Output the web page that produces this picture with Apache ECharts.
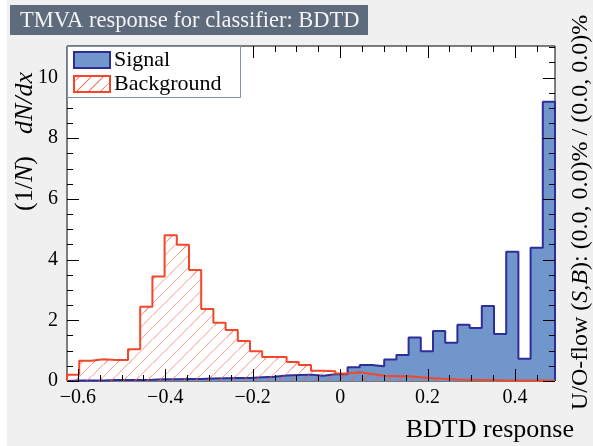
<!DOCTYPE html>
<html>
<head>
<meta charset="utf-8">
<script src="https://cdn.jsdelivr.net/npm/echarts@6/dist/echarts.min.js"></script>
<style>
  html, body { margin: 0; padding: 0; background: #f0f0f0; }
  #chart { width: 593px; height: 446px; }
</style>
</head>
<body>
<div id="chart"></div>
<script>
// Histogram binning of the BDTD classifier response
const xMin = -0.6247;
const xMax = 0.4914;
const nBins = 40;

// Normalised (1/N) dN/dx per bin, left to right
const signal = [
  0.02, 0.02, 0.02, 0.03, 0.03, 0.03, 0.04, 0.06, 0.06, 0.07,
  0.07, 0.08, 0.09, 0.10, 0.10, 0.12, 0.14, 0.18, 0.20, 0.21,
  0.17, 0.22, 0.22, 0.45, 0.53, 0.49, 0.71, 0.86, 1.43, 0.98,
  1.65, 1.26, 1.85, 1.75, 2.47, 1.55, 4.26, 0.73, 4.39, 9.20
];
const background = [
  0.21, 0.67, 0.72, 0.69, 0.69, 1.05, 2.45, 3.44, 4.80, 4.49,
  3.66, 2.37, 1.92, 1.68, 1.32, 0.98, 0.79, 0.79, 0.63, 0.53,
  0.34, 0.32, 0.25, 0.29, 0.23, 0.17, 0.16, 0.16, 0.12, 0.09,
  0.07, 0.05, 0.04, 0.03, 0.03, 0.02, 0.02, 0.02, 0.02, 0.01
];

// Axis tick labels
const xTickValues = [-0.6, -0.4, -0.2, 0, 0.2, 0.4];
const yTickValues = [0, 2, 4, 6, 8, 10];

const yMax = 1.2 * Math.max(...signal, ...background);

const SERIF = '"Liberation Serif", "DejaVu Serif", serif';
const SIG_FILL = '#7096cc';
const SIG_LINE = '#2e2e9a';
const BKG_LINE = '#f2472b';
const HATCH = '#f25a40';
const HATCH_STEP = 12;   // horizontal spacing of the hatch lines, px
const HATCH_W = 0.6;     // half horizontal thickness of a hatch stripe, px
const MAJOR_LEN = 12, MINOR_LEN = 6;

function edge(k) { return xMin + k * (xMax - xMin) / nBins; }

// Closed stepped outline of a histogram: up at the first edge, flat tops, down at the last edge
function stepData(vals) {
  const d = [[edge(0), 0]];
  vals.forEach((v, i) => d.push([edge(i), v]));
  d.push([edge(nBins), vals[nBins - 1]]);
  d.push([edge(nBins), 0]);
  return d;
}

// Minor tick positions (every 0.05 on x, every 0.5 on y), majors are the labelled ones
const xMinor = [];
for (let v = -0.6; v < xMax; v += 0.05) xMinor.push(+v.toFixed(2));
const yMinor = [];
for (let v = 0; v <= yMax; v += 0.5) yMinor.push(+v.toFixed(1));
const isMajor = (list, v) => list.some(t => Math.abs(t - v) < 1e-9);

const fmtX = v => {
  const r = +(+v).toFixed(1);
  return (r < 0 ? '\u2212' + Math.abs(r) : String(r));
};

// "/" hatch stripes (x + y = const in screen space) clipped to a rectangle, as thin filled quads
function hatchStripes(x0, y0, x1, y1) {
  const out = [];
  const cStart = Math.ceil((x0 + y0) / HATCH_STEP) * HATCH_STEP;
  for (let c = cStart; c <= x1 + y1; c += HATCH_STEP) {
    const lo = Math.max(x0, c - y1);
    const hi = Math.min(x1, c - y0);
    if (hi - lo > 0.3) {
      const a = Math.max(x0, lo - HATCH_W), b = Math.min(x1, hi + HATCH_W);
      out.push([
        [a, c - lo], [Math.min(x1, lo + HATCH_W), c - lo],
        [b, c - hi], [Math.max(x0, hi - HATCH_W), c - hi]
      ]);
    }
  }
  return out;
}

function renderHatch(params, api) {
  const tl = api.coord([api.value(0), api.value(2)]);
  const br = api.coord([api.value(1), 0]);
  return {
    type: 'group',
    children: hatchStripes(tl[0], tl[1], br[0], br[1]).map(p => ({
      type: 'polygon', shape: { points: p }, style: { fill: HATCH }
    }))
  };
}

const hatchData = background.map((v, i) => [edge(i), edge(i + 1), v]);

// Legend key box, drawn as plain shapes and text
const LEG = { x: 67.5, y: 46.5, w: 173, h: 51, sx: 74, sw: 36, sh: 16, rows: [52, 76] };
const legendGraphics = [
  { type: 'rect', shape: { x: LEG.x, y: LEG.y, width: LEG.w, height: LEG.h },
    style: { fill: '#ffffff', stroke: '#8090a8', lineWidth: 1 }, z: 20 },
  { type: 'rect', shape: { x: LEG.sx, y: LEG.rows[0], width: LEG.sw, height: LEG.sh },
    style: { fill: SIG_FILL, stroke: SIG_LINE, lineWidth: 2 }, z: 21 },
  { type: 'text', x: 114, y: LEG.rows[0] + 8, z: 21,
    style: { text: 'Signal', font: '22px ' + SERIF, fill: '#000', verticalAlign: 'middle' } },
  { type: 'rect', shape: { x: LEG.sx, y: LEG.rows[1], width: LEG.sw, height: LEG.sh },
    style: { fill: '#ffffff', stroke: BKG_LINE, lineWidth: 2 }, z: 21 },
  { type: 'text', x: 114, y: LEG.rows[1] + 8, z: 21,
    style: { text: 'Background', font: '22px ' + SERIF, fill: '#000', verticalAlign: 'middle' } }
].concat(
  hatchStripes(LEG.sx + 1, LEG.rows[1] + 1, LEG.sx + LEG.sw - 1, LEG.rows[1] + LEG.sh - 1).map(p => ({
    type: 'polygon', z: 22, shape: { points: p }, style: { fill: HATCH }
  }))
);

// Titles and side texts
const textGraphics = [
  { type: 'rect', shape: { x: 0, y: 0, width: 7, height: 446 }, style: { fill: '#ffffff' }, z: -10 },
  { type: 'rect', shape: { x: 10, y: 5, width: 358, height: 30 }, style: { fill: '#5d6b7d' }, z: 10 },
  { type: 'text', x: 20, y: 21, z: 11,
    style: { text: 'TMVA response for classifier: BDTD', fill: '#f4f4f4',
             font: '22.5px ' + SERIF, verticalAlign: 'middle' } },
  { type: 'text', x: 25, y: 72, rotation: Math.PI / 2, z: 11,
    style: {
      text: '{n|(1/}{i|N}{n|)}{g|}{i|dN/dx}', align: 'right', verticalAlign: 'middle',
      rich: {
        n: { fontFamily: SERIF, fontSize: 26, fill: '#000' },
        i: { fontFamily: SERIF, fontSize: 26, fontStyle: 'italic', fill: '#000' },
        g: { width: 22 }
      }
    } },
  { type: 'text', x: 574, y: 430, z: 11,
    style: { text: 'BDTD response', fill: '#000', font: '26px ' + SERIF,
             align: 'right', verticalAlign: 'middle' } },
  { type: 'text', x: 581, y: 410, rotation: Math.PI / 2, z: 11,
    style: {
      text: '{n|U/O-flow (}{i|S,B}{n|): (0.0, 0.0)% / (0.0, 0.0)%}',
      align: 'left', verticalAlign: 'middle',
      rich: {
        n: { fontFamily: SERIF, fontSize: 24, fill: '#000' },
        i: { fontFamily: SERIF, fontSize: 24, fontStyle: 'italic', fill: '#000' }
      }
    } }
];

const chart = echarts.init(document.getElementById('chart'), null, { renderer: 'canvas' });

chart.setOption({
  animation: false,
  backgroundColor: '#f0f0f0',
  grid: {
    left: 67, right: 38, top: 46, bottom: 65,
    show: true, backgroundColor: '#ffffff', borderColor: '#000', borderWidth: 1
  },
  xAxis: {
    type: 'value', min: xMin, max: xMax,
    axisLine: { show: false, onZero: false },
    axisTick: { show: false },
    axisLabel: {
      customValues: xTickValues, formatter: fmtX, margin: 7,
      fontFamily: SERIF, fontSize: 20, color: '#000'
    },
    splitLine: { show: false }
  },
  yAxis: {
    type: 'value', min: 0, max: yMax,
    axisLine: { show: false, onZero: false },
    axisTick: { show: false },
    axisLabel: {
      customValues: yTickValues, margin: 9,
      fontFamily: SERIF, fontSize: 20, color: '#000'
    },
    splitLine: { show: false }
  },
  series: [
    {
      name: 'Signal', type: 'line', step: 'end', showSymbol: false, symbol: 'none',
      z: 2, data: stepData(signal),
      lineStyle: { color: SIG_LINE, width: 2 },
      itemStyle: { color: SIG_FILL },
      areaStyle: { color: SIG_FILL, opacity: 1 }
    },
    {
      name: 'Background hatch', type: 'custom', z: 3,
      renderItem: renderHatch, data: hatchData,
      encode: { x: [0, 1], y: 2 }
    },
    {
      name: 'Background', type: 'line', step: 'end', showSymbol: false, symbol: 'none',
      z: 4, data: stepData(background),
      lineStyle: { color: BKG_LINE, width: 2 },
      itemStyle: { color: BKG_LINE }
    }
  ]
});

// Inward tick marks on all four frame sides, placed through the axis scales
const frameBL = chart.convertToPixel({ gridIndex: 0 }, [xMin, 0]);
const frameTR = chart.convertToPixel({ gridIndex: 0 }, [xMax, yMax]);
const fL = frameBL[0], fB = frameBL[1], fR = frameTR[0], fT = frameTR[1];
const tickGraphics = [];
xMinor.forEach(v => {
  const px = Math.round(chart.convertToPixel({ xAxisIndex: 0 }, v));
  const len = isMajor(xTickValues, v) ? MAJOR_LEN : MINOR_LEN;
  tickGraphics.push({ type: 'rect', z: 15, shape: { x: px, y: fB - len, width: 1, height: len }, style: { fill: '#000' } });
  tickGraphics.push({ type: 'rect', z: 15, shape: { x: px, y: fT, width: 1, height: len }, style: { fill: '#000' } });
});
yMinor.forEach(v => {
  const py = Math.round(chart.convertToPixel({ yAxisIndex: 0 }, v));
  const len = isMajor(yTickValues, v) ? MAJOR_LEN : MINOR_LEN;
  tickGraphics.push({ type: 'rect', z: 15, shape: { x: fL, y: py, width: len, height: 1 }, style: { fill: '#000' } });
  tickGraphics.push({ type: 'rect', z: 15, shape: { x: fR - len, y: py, width: len, height: 1 }, style: { fill: '#000' } });
});

chart.setOption({ graphic: textGraphics.concat(legendGraphics, tickGraphics) });
</script>
</body>
</html>
